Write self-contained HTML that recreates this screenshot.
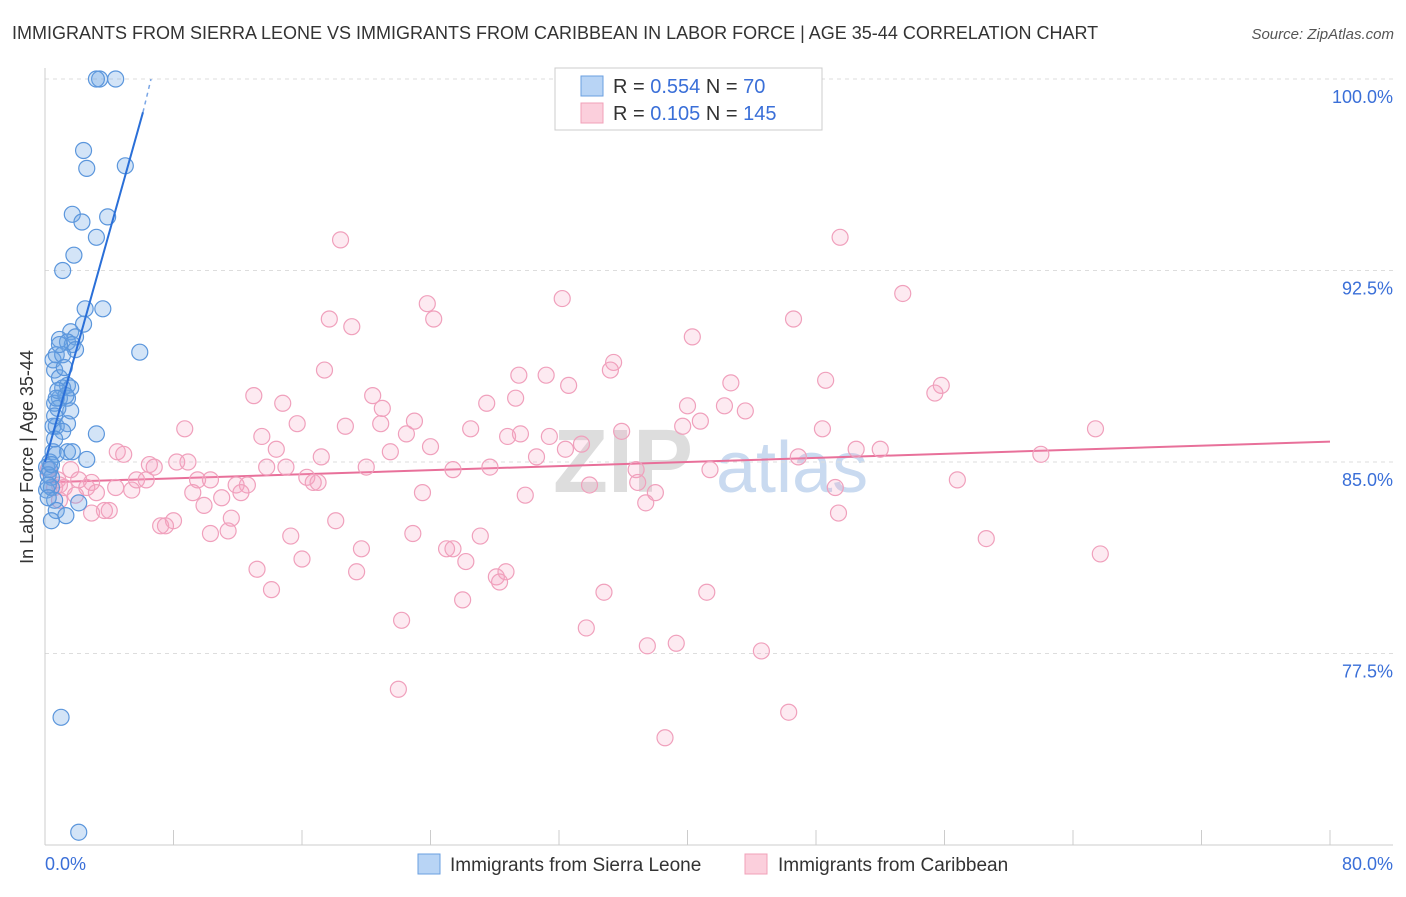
<!DOCTYPE html>
<html><head><meta charset="utf-8"><style>
body{margin:0;background:#fff;font-family:"Liberation Sans",sans-serif;}
svg text{font-family:"Liberation Sans",sans-serif;}
</style></head><body>
<svg id="chart" width="1406" height="892" xmlns="http://www.w3.org/2000/svg">
<text x="12" y="39" font-size="18" fill="#333">IMMIGRANTS FROM SIERRA LEONE VS IMMIGRANTS FROM CARIBBEAN IN LABOR FORCE | AGE 35-44 CORRELATION CHART</text>
<text x="1394" y="39" font-size="15" fill="#555" font-style="italic" text-anchor="end">Source: ZipAtlas.com</text>
<text transform="translate(33,457) rotate(-90)" font-size="18" fill="#333" text-anchor="middle">In Labor Force | Age 35-44</text>
<g id="watermark">
<text x="553" y="492" font-size="90" fill="#ddd" font-family="Liberation Serif" font-weight="bold">ZIP</text>
<text x="716" y="492" font-size="72" fill="#c9daf0">atlas</text>
</g>
<g id="grid"></g>
<g id="axes"></g>
<g id="trends"></g>
<g id="points"></g>
<g>
<rect x="555" y="68" width="267" height="62" fill="#fff" stroke="#ccc"/>
<rect x="581" y="76" width="22" height="20" fill="#b8d4f5" stroke="#6a9fe0"/>
<rect x="581" y="103" width="22" height="20" fill="#fbcfdc" stroke="#f0a0b8"/>
<text x="613" y="93" font-size="20" fill="#333">R = <tspan fill="#3a6fd8">0.554</tspan>   N =  <tspan fill="#3a6fd8">70</tspan></text>
<text x="613" y="120" font-size="20" fill="#333">R =  <tspan fill="#3a6fd8">0.105</tspan>   N = <tspan fill="#3a6fd8">145</tspan></text>
</g>
<g>
<rect x="418" y="854" width="22" height="20" fill="#b8d4f5" stroke="#6a9fe0"/>
<text x="450" y="871" font-size="19" fill="#333">Immigrants from Sierra Leone</text>
<rect x="745" y="854" width="22" height="20" fill="#fbcfdc" stroke="#f0a0b8"/>
<text x="778" y="871" font-size="19" fill="#333">Immigrants from Caribbean</text>
</g>
</svg>
<script>
const blueX=[3.4,4.4,3.2,2.4,2.6,5.0,1.7,2.3,3.9,3.2,1.8,1.1,2.5,3.6,2.4,1.6,0.9,1.9,1.4,1.7,1.9,0.7,0.5,1.1,0.6,0.9,1.4,1.1,0.9,0.6,1.4,1.6,0.8,0.7,1.4,0.5,5.9,3.2,1.4,1.7,2.6,0.5,0.3,0.1,0.3,0.4,0.1,0.4,0.6,2.1,0.7,1.3,0.4,1.0,2.1,0.2,0.2,1.1,0.6,0.7,1.6,1.2,0.8,0.6,0.9,1.3,0.7,0.4,0.2];
const blueY=[100,100,100,97.2,96.5,96.6,94.7,94.4,94.6,93.8,93.1,92.5,91.0,91.0,90.4,90.1,89.8,89.9,89.7,89.6,89.4,89.2,89.0,89.2,88.6,88.3,88.0,87.9,87.5,87.3,87.5,87.0,87.1,86.4,86.5,86.4,89.3,86.1,85.4,85.4,85.1,85.4,85.0,84.8,84.7,84.4,83.9,84.0,83.5,83.4,83.1,82.9,82.7,75.0,70.5,84.5,84.1,86.2,85.9,85.3,87.9,88.7,87.8,86.8,89.6,87.6,87.5,84.9,83.6];
const pinkX=[18.4,32.2,49.5,53.4,23.8,24.2,17.7,19.1,40.3,46.6,35.4,35.2,17.4,31.2,29.5,32.6,42.7,48.6,55.8,55.4,13.0,20.4,21.0,27.5,29.3,14.8,23.0,15.7,18.7,20.9,26.5,28.8,29.6,31.4,33.4,35.9,40.0,40.8,39.7,42.3,43.6,48.4,65.4,8.7,13.5,22.5,24.0,21.5,14.4,17.2,4.5,4.9,6.5,6.8,8.2,8.9,13.8,15.0,20.0,25.4,27.7,30.6,32.4,36.8,41.4,46.9,50.5,52.0,62.0,56.8,1.6,2.1,2.9,2.6,3.2,4.4,5.4,5.7,6.3,9.5,10.3,11.9,12.6,16.3,16.7,17.0,9.2,11.0,12.2,23.5,33.9,36.9,38.0,37.4,49.2,29.9,9.9,11.6,8.0,7.2,7.5,2.9,3.7,4.0,18.1,22.9,11.4,10.3,15.3,19.7,25.0,25.4,27.1,16.0,26.2,58.6,65.7,49.4,13.2,19.4,28.1,28.7,28.3,14.1,34.8,41.2,26.0,22.2,33.7,37.5,39.3,44.6,22.0,46.3,38.6,0.6,0.9,0.2,0.8,1.2,1.9,0.9];
const pinkY=[93.7,91.4,93.8,91.6,91.2,90.6,90.6,90.3,89.9,90.6,88.9,88.6,88.6,88.4,88.4,88.0,88.1,88.2,88.0,87.7,87.6,87.6,87.1,87.3,87.5,87.3,86.6,86.5,86.4,86.5,86.3,86.0,86.1,86.0,85.7,86.2,87.2,86.6,86.4,87.2,87.0,86.3,86.3,86.3,86.0,86.1,85.6,85.4,85.5,85.2,85.4,85.3,84.9,84.8,85.0,85.0,84.8,84.8,84.8,84.7,84.8,85.2,85.5,84.7,84.7,85.2,85.5,85.5,85.3,84.3,84.7,84.3,84.2,84.0,83.8,84.0,83.9,84.3,84.3,84.3,84.3,84.1,84.1,84.4,84.2,84.2,83.8,83.6,83.8,83.8,84.1,84.2,83.8,83.4,84.0,83.7,83.3,82.8,82.7,82.5,82.5,83.0,83.1,83.1,82.7,82.2,82.3,82.2,82.1,81.6,81.6,81.6,82.1,81.2,81.1,82.0,81.4,83.0,80.8,80.7,80.5,80.7,80.3,80.0,79.9,79.9,79.6,78.8,78.5,77.8,77.9,77.6,76.1,75.2,74.2,84.0,83.5,84.7,84.3,84.0,83.7,84.1];
const yTicks=[100,92.5,85,77.5];
const yTickLabels=["100.0%","92.5%","85.0%","77.5%"];
const xTicks=[0,8,16,24,32,40,48,56,64,72,80];
const blueTrend=[[0,85.0],[6.1,98.7]];
const blueTrendDash=[[6.1,98.7],[6.6,100]];
const pinkTrend=[[0,84.2],[80,85.8]];

const NS="http://www.w3.org/2000/svg";
const X=v=>45+v*16.0625;
const Y=v=>79+(100-v)*25.533;
function mk(parent,tag,attrs){const e=document.createElementNS(NS,tag);for(const k in attrs)e.setAttribute(k,attrs[k]);document.getElementById(parent).appendChild(e);return e;}
yTicks.forEach((t,i)=>{
 const l=mk('grid','line',{x1:45,x2:1393,y1:Y(t),y2:Y(t),stroke:'#ddd','stroke-dasharray':'4,4'});
 
 
 const tx=mk('grid','text',{x:1393,y:Y(t)+24,'font-size':18,fill:'#3a6fd8','text-anchor':'end'});
 tx.textContent=yTickLabels[i];
 
 
});
const ax=mk('axes','line',{x1:45,x2:45,y1:68,y2:845,stroke:'#ccc'});


const bx=mk('axes','line',{x1:45,x2:1393,y1:845,y2:845,stroke:'#ccc'});


xTicks.forEach(t=>{
 const l=mk('axes','line',{x1:X(t),x2:X(t),y1:830,y2:845,stroke:'#ccc'});
 
 
});
const xl0=mk('axes','text',{x:45,y:870,'font-size':18,fill:'#3a6fd8'});xl0.textContent=xTicks[0].toFixed(1)+'%';


const xl1=mk('axes','text',{x:1393,y:870,'font-size':18,fill:'#3a6fd8','text-anchor':'end'});xl1.textContent=xTicks[xTicks.length-1].toFixed(1)+'%';



pinkX.forEach((v,i)=>{
 const c=mk('points','circle',{cx:X(v),cy:Y(pinkY[i]),r:8,fill:'rgba(245,160,190,0.22)',stroke:'#f0a0bc','stroke-width':1.2});
 
 
});
blueX.forEach((v,i)=>{
 const c=mk('points','circle',{cx:X(v),cy:Y(blueY[i]),r:8,fill:'rgba(110,165,230,0.3)',stroke:'#5b96dc','stroke-width':1.2});
 
 
});
const pt=mk('trends','line',{x1:X(pinkTrend[0][0]),y1:Y(pinkTrend[0][1]),x2:X(pinkTrend[1][0]),y2:Y(pinkTrend[1][1]),stroke:'#e8709a','stroke-width':2});


const bt=mk('points','line',{x1:X(blueTrend[0][0]),y1:Y(blueTrend[0][1]),x2:X(blueTrend[1][0]),y2:Y(blueTrend[1][1]),stroke:'#2a6fd8','stroke-width':2});


const bd=mk('points','line',{x1:X(blueTrendDash[0][0]),y1:Y(blueTrendDash[0][1]),x2:X(blueTrendDash[1][0]),y2:Y(blueTrendDash[1][1]),stroke:'#7aa6e6','stroke-width':1.5,'stroke-dasharray':'4,4'});


</script>
</body></html>
